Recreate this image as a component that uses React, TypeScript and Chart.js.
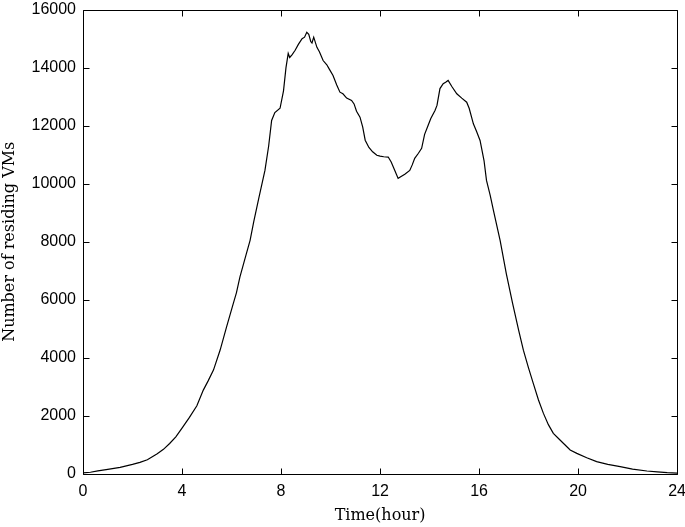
import React, { useEffect, useRef } from "react";
import { Chart, registerables } from "chart.js";

Chart.register(...registerables);

const hours: number[] = [
  0, 0.3, 0.6, 1, 1.5, 2, 2.3, 2.6, 3, 3.25, 3.5, 3.75, 4, 4.3, 4.6, 4.86, 5.05, 5.27, 5.54, 5.8, 6.07,
  6.2, 6.34, 6.6, 6.75, 6.9, 7.1, 7.35, 7.5, 7.62, 7.75, 7.96, 8.1, 8.2, 8.29, 8.35, 8.45, 8.57, 8.7,
  8.85, 8.95, 9.04, 9.12, 9.2, 9.25, 9.32, 9.45, 9.55, 9.7, 9.85, 9.95, 10.1, 10.25, 10.38, 10.5, 10.65,
  10.85, 10.95, 11.05, 11.19, 11.3, 11.4, 11.55, 11.7, 11.87, 12.0, 12.15, 12.33, 12.45, 12.6, 12.73,
  12.85, 13.0, 13.2, 13.3, 13.4, 13.55, 13.68, 13.8, 13.94, 14.05, 14.22, 14.3, 14.42, 14.55, 14.65,
  14.75, 14.9, 15.1, 15.3, 15.5, 15.6, 15.77, 15.9, 16.04, 16.2, 16.3, 16.45, 16.58, 16.85, 17.1,
  17.35, 17.6, 17.79, 18.0, 18.19, 18.4, 18.6, 18.8, 19.0, 19.27, 19.68, 19.95, 20.35, 20.75, 21.2,
  21.7, 22.2, 22.78, 23.2, 23.6, 24,
];

const vms: number[] = [
  40, 60, 110, 160, 230, 330, 400, 490, 700, 850, 1050, 1280, 1580, 1950, 2350, 2890, 3200, 3580,
  4270, 5070, 5870, 6250, 6790, 7590, 8050, 8700, 9500, 10460, 11300, 12180, 12450, 12600, 13200,
  14000, 14490, 14350, 14450, 14600, 14800, 15000, 15050, 15220, 15150, 14900, 14850, 15050, 14700,
  14550, 14245, 14100, 13950, 13730, 13400, 13155, 13100, 12950, 12870, 12750, 12500, 12295, 11950,
  11500, 11250, 11100, 10980, 10950, 10930, 10920, 10750, 10450, 10185, 10250, 10330, 10460, 10650,
  10875, 11050, 11220, 11700, 12010, 12250, 12525, 12700, 13280, 13450, 13500, 13560, 13350, 13100,
  12950, 12810, 12600, 12065, 11800, 11490, 10800, 10115, 9600, 9085, 8050, 6905, 5900, 4950, 4267,
  3650, 3120, 2550, 2088, 1700, 1400, 1170, 826, 711, 560, 425, 330, 253, 170, 103, 70, 46, 30,
];

const xTicksStep = 4;
const yTicksStep = 2000;
const xMax = 24;
const yMax = 16000;

const xTitle = "Time(hour)";
const yTitle = "Number of residing VMs";

const framePlugin = {
  id: "matlabFrame",
  afterDatasetsDraw(chart: any) {
    const { ctx, chartArea, scales } = chart;
    const { left, right, top, bottom } = chartArea;
    const L = Math.round(left) + 0.5;
    const R = Math.round(right) + 0.5;
    const T = Math.round(top) + 0.5;
    const B = Math.round(bottom) + 0.5;
    ctx.save();
    ctx.strokeStyle = "#000";
    ctx.lineWidth = 1;
    ctx.beginPath();
    ctx.rect(L, T, R - L, B - T);
    ctx.stroke();
    const len = 6;
    ctx.beginPath();
    scales.x.ticks.forEach((t: any) => {
      const px = Math.round(scales.x.getPixelForValue(t.value)) + 0.5;
      ctx.moveTo(px, B);
      ctx.lineTo(px, B - len);
      ctx.moveTo(px, T);
      ctx.lineTo(px, T + len);
    });
    scales.y.ticks.forEach((t: any) => {
      const py = Math.round(scales.y.getPixelForValue(t.value)) + 0.5;
      ctx.moveTo(L, py);
      ctx.lineTo(L + len, py);
      ctx.moveTo(R, py);
      ctx.lineTo(R - len, py);
    });
    ctx.stroke();
    ctx.restore();
  },
};

export default function App() {
  const ref = useRef<HTMLCanvasElement | null>(null);

  useEffect(() => {
    document.body.style.margin = "0";
    document.body.style.background = "#fff";
    document.body.style.overflow = "hidden";
    const canvas = ref.current;
    if (!canvas) return;
    const chart = new Chart(canvas, {
      type: "line",
      data: {
        datasets: [
          {
            data: hours.map((h, i) => ({ x: h, y: vms[i] })),
            borderColor: "#000",
            borderWidth: 1.2,
            pointRadius: 0,
            tension: 0,
            fill: false,
          },
        ],
      },
      options: {
        animation: false,
        responsive: false,
        maintainAspectRatio: false,
        layout: { padding: { top: 0, right: 0, left: 0, bottom: 0 } },
        plugins: { legend: { display: false }, tooltip: { enabled: false } },
        scales: {
          x: {
            type: "linear",
            min: 0,
            max: xMax,
            grid: { display: false, drawTicks: false },
            border: { display: false },
            ticks: {
              stepSize: xTicksStep,
              color: "#000",
              padding: 8,
              maxRotation: 0,
              callback: (v: any) => String(v),
              font: { family: "'Liberation Sans', Arial, sans-serif", size: 16 },
            },
            title: {
              display: true,
              text: xTitle,
              color: "#000",
              padding: { top: 2, bottom: 2 },
              font: { family: "'DejaVu Serif', serif", size: 16 },
            },
            afterFit: (s: any) => {
              s.height = 53;
            },
          },
          y: {
            type: "linear",
            min: 0,
            max: yMax,
            grid: { display: false, drawTicks: false },
            border: { display: false },
            ticks: {
              stepSize: yTicksStep,
              color: "#000",
              padding: 7,
              callback: (v: any) => String(v),
              font: { family: "'Liberation Sans', Arial, sans-serif", size: 16 },
            },
            title: {
              display: true,
              text: yTitle,
              color: "#000",
              padding: { top: 0, bottom: 2 },
              font: { family: "'DejaVu Serif', serif", size: 16 },
            },
            afterFit: (s: any) => {
              s.width = 83;
            },
          },
        },
      },
      plugins: [framePlugin],
    });
    return () => chart.destroy();
  }, []);

  return (
    <div style={{ position: "absolute", left: 0, top: 0, width: 685, height: 527, overflow: "hidden", background: "#fff" }}>
      <canvas
        ref={ref}
        width={694}
        height={534}
        style={{ display: "block", position: "absolute", left: 0, top: -7, width: 694, height: 534 }}
      />
    </div>
  );
}
